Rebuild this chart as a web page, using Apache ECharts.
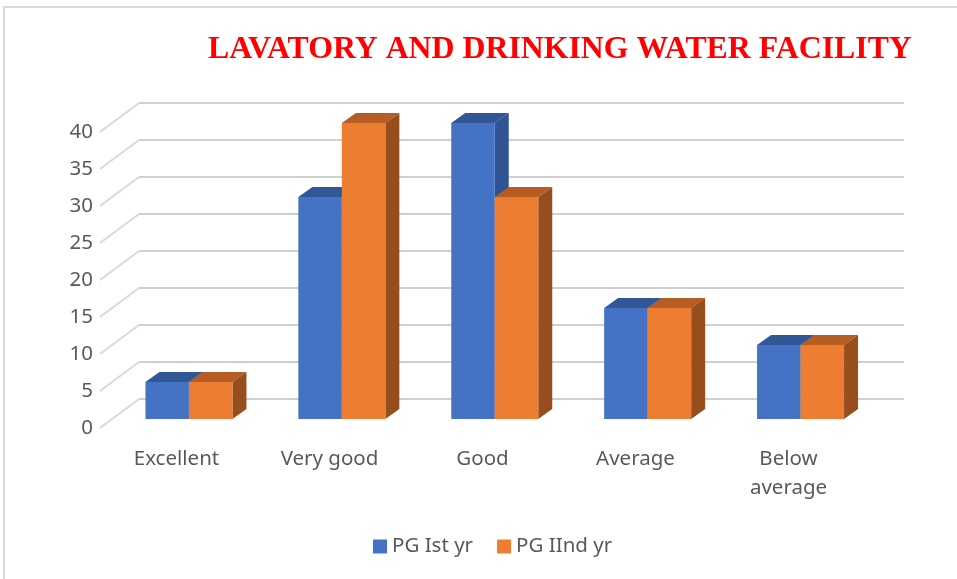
<!DOCTYPE html>
<html>
<head>
<meta charset="utf-8">
<style>
  html, body { margin: 0; padding: 0; background: #fff; }
  #chart { width: 957px; height: 579px; }
</style>
<script src="https://cdn.jsdelivr.net/npm/echarts@6/dist/echarts.min.js"></script>
</head>
<body>
<div id="chart"></div>
<script>
const categories = ['Excellent', 'Very good', 'Good', 'Average', 'Below\naverage']
const pgFirst = [5, 30, 40, 15, 10]
const pgSecond = [5, 40, 30, 15, 10]
const tickValues = [0, 5, 10, 15, 20, 25, 30, 35, 40]

const labelColor = '#595959'
const labelFont = '"Noto Sans", sans-serif'
const barWidth = 43.5

// draws one fake-3D box: front face plus top and side faces
function boxRenderer(offset, front, top, side) {
  return (params, api) => {
    const base = api.coord([api.value(0), 0])
    const head = api.coord([api.value(0), api.value(1)])
    const x0 = base[0] + offset
    const x1 = x0 + barWidth
    const dx = 14
    const dy = -10
    return {
      type: 'group',
      children: [
        {
          type: 'polygon',
          shape: { points: [[x0, head[1]], [x1, head[1]], [x1 + dx, head[1] + dy], [x0 + dx, head[1] + dy]] },
          style: { fill: top }
        },
        {
          type: 'polygon',
          shape: { points: [[x1, head[1]], [x1 + dx, head[1] + dy], [x1 + dx, base[1] + dy], [x1, base[1]]] },
          style: { fill: side }
        },
        {
          type: 'rect',
          shape: { x: x0, y: head[1], width: barWidth, height: base[1] - head[1] },
          style: { fill: front }
        }
      ]
    }
  }
}

// side wall lines running from the front value axis to the back wall
function wallLine(params, api) {
  const p = api.coord([0, api.value(0)])
  const x = params.coordSys.x
  return {
    type: 'line',
    shape: { x1: x, y1: p[1], x2: x + 39, y2: p[1] - 29 },
    style: { stroke: '#d9d9d9', lineWidth: 2 }
  }
}

const chart = echarts.init(document.getElementById('chart'))
chart.setOption({
  animation: false,
  backgroundColor: '#fff',
  title: {
    text: 'LAVATORY AND DRINKING WATER FACILITY',
    left: 203,
    top: 29,
    textStyle: {
      color: '#ff0000',
      fontFamily: '"Liberation Serif", serif',
      fontSize: 31.8,
      fontWeight: 'bold'
    }
  },
  legend: {
    left: 368,
    top: 531,
    itemWidth: 14,
    itemHeight: 14,
    itemGap: 24,
    icon: 'rect',
    data: ['PG Ist yr', 'PG IInd yr'],
    textStyle: { color: labelColor, fontFamily: labelFont, fontSize: 20.5 }
  },
  grid: [
    // back wall
    { left: 139, right: 53, top: 103, bottom: 180 },
    // front plane, holds the axis labels
    { left: 100, right: 92, top: 132, bottom: 151 },
    // bars
    { left: 112.5, right: 80, top: 123, bottom: 160 }
  ],
  xAxis: [
    { gridIndex: 0, type: 'category', data: categories, show: false },
    {
      gridIndex: 1,
      type: 'category',
      data: categories,
      axisLine: { show: false },
      axisTick: { show: false },
      axisLabel: { color: labelColor, fontFamily: labelFont, fontSize: 20.5, margin: 17, lineHeight: 29 }
    },
    { gridIndex: 2, type: 'category', data: categories, show: false }
  ],
  yAxis: [
    {
      gridIndex: 0,
      type: 'value',
      min: 0,
      max: 40,
      interval: 5,
      axisLine: { show: false },
      axisTick: { show: false },
      axisLabel: { show: false },
      splitLine: { lineStyle: { color: '#cfcfcf', width: 2 } }
    },
    {
      gridIndex: 1,
      type: 'value',
      min: 0,
      max: 40,
      interval: 5,
      axisLine: { show: false },
      axisTick: { show: false },
      splitLine: { show: false },
      axisLabel: { color: labelColor, fontFamily: labelFont, fontSize: 20.5, margin: 7 }
    },
    { gridIndex: 2, type: 'value', min: 0, max: 40, interval: 5, show: false }
  ],
  series: [
    {
      name: 'walls',
      type: 'custom',
      xAxisIndex: 1,
      yAxisIndex: 1,
      silent: true,
      encode: { y: 0 },
      data: tickValues.map((v) => [v]),
      renderItem: wallLine
    },
    {
      name: 'PG Ist yr',
      type: 'custom',
      xAxisIndex: 2,
      yAxisIndex: 2,
      z: 3,
      itemStyle: { color: '#4472c4' },
      encode: { x: 0, y: 1 },
      data: pgFirst.map((v, i) => [i, v]),
      renderItem: boxRenderer(-barWidth, '#4472c4', '#325797', '#2f5494')
    },
    {
      name: 'PG IInd yr',
      type: 'custom',
      xAxisIndex: 2,
      yAxisIndex: 2,
      z: 4,
      itemStyle: { color: '#ed7d31' },
      encode: { x: 0, y: 1 },
      data: pgSecond.map((v, i) => [i, v]),
      renderItem: boxRenderer(0, '#ed7d31', '#b55d22', '#964f1c')
    }
  ],
  graphic: [
    // thin frame of the source image
    {
      type: 'polyline',
      silent: true,
      shape: { points: [[4, 579], [4, 7], [957, 7]] },
      style: { stroke: '#d9d9d9', lineWidth: 2, fill: null }
    }
  ]
})
</script>
</body>
</html>
